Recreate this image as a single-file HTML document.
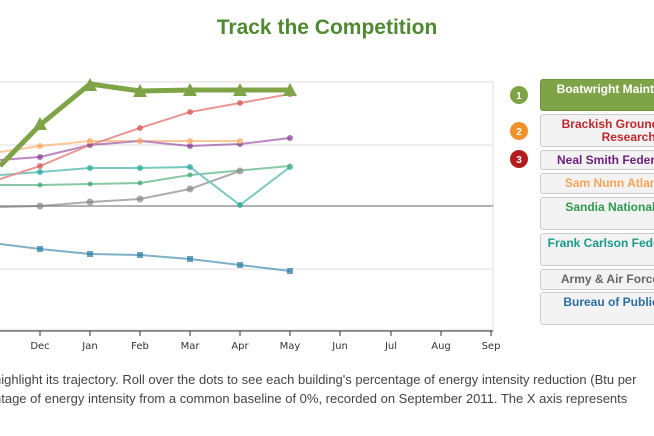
<!DOCTYPE html><html><head><style>
body{margin:0;width:654px;height:436px;overflow:hidden;background:#fff;font-family:"Liberation Sans",sans-serif;position:relative}
.t{position:absolute;left:0;width:654px;top:16px;text-align:center;font-size:21px;font-weight:bold;color:#4f8a32}
.lg{position:absolute;left:540px;top:0;width:114px;height:436px;overflow:hidden}
.b{position:absolute;left:0;width:172px;border:1px solid #ccc;border-radius:3px;background:#f3f3f3;font-size:12px;font-weight:bold;text-align:center;box-sizing:border-box;padding-top:3px;line-height:13px;white-space:nowrap;overflow:hidden}
.dw{position:absolute;left:0;top:360px;width:654px;height:60px;overflow:hidden}
.d{position:absolute;font-size:13px;color:#444;left:-6px;white-space:nowrap}
</style></head><body>
<div class="t">Track the Competition</div>
<svg width="654" height="436" style="position:absolute;left:0;top:0">
<rect x="-1" y="82" width="494" height="248" fill="none" stroke="#ddd"/>
<g stroke="#ddd"><line x1="0" y1="145" x2="493" y2="145"/><line x1="0" y1="269" x2="493" y2="269"/></g>
<line x1="0" y1="206" x2="493" y2="206" stroke="#999" stroke-width="1.5"/>
<line x1="0" y1="331" x2="493" y2="331" stroke="#333"/>
<g stroke="#333"><line x1="40" y1="331" x2="40" y2="336"/><line x1="90" y1="331" x2="90" y2="336"/><line x1="140" y1="331" x2="140" y2="336"/><line x1="190" y1="331" x2="190" y2="336"/><line x1="240" y1="331" x2="240" y2="336"/><line x1="290" y1="331" x2="290" y2="336"/><line x1="340" y1="331" x2="340" y2="336"/><line x1="391" y1="331" x2="391" y2="336"/><line x1="441" y1="331" x2="441" y2="336"/><line x1="491" y1="331" x2="491" y2="336"/></g>
<g font-size="10" fill="#333" text-anchor="middle" font-family="DejaVu Sans"><text x="40" y="349">Dec</text><text x="90" y="349">Jan</text><text x="140" y="349">Feb</text><text x="190" y="349">Mar</text><text x="240" y="349">Apr</text><text x="290" y="349">May</text><text x="340" y="349">Jun</text><text x="391" y="349">Jul</text><text x="441" y="349">Aug</text><text x="491" y="349">Sep</text></g>
<g fill="none" stroke-width="2" opacity="0.6">
<polyline stroke="#2a7ba0" points="0,244 40,249 90,254 140,255 190,259 240,265 290,271"/>
<polyline stroke="#777" points="0,207 40,206 90,202 140,199 190,189 240,171"/>
<polyline stroke="#3aa56a" points="0,185 40,185 90,184 140,183 190,175 290,166"/>
<polyline stroke="#1fa898" points="0,175 40,172 90,168 140,168 190,167 240,205 290,167"/>
<polyline stroke="#fda65a" points="0,152 40,146 90,141 140,141 190,141 240,141"/>
<polyline stroke="#8a3a95" points="0,160 40,157 90,145 140,141 190,146 240,144 290,138"/>
<polyline stroke="#d9534f" points="0,179 40,166 90,145 140,128 190,112 240,103 290,94"/>
</g>
<g opacity="0.7">
<g fill="#2a7ba0"><rect x="37" y="246" width="6" height="6"/><rect x="87" y="251" width="6" height="6"/><rect x="137" y="252" width="6" height="6"/><rect x="187" y="256" width="6" height="6"/><rect x="237" y="262" width="6" height="6"/><rect x="287" y="268" width="6" height="6"/></g>
<g fill="#888"><circle cx="40" cy="206" r="3.5"/><circle cx="90" cy="202" r="3.5"/><circle cx="140" cy="199" r="3.5"/><circle cx="190" cy="189" r="3.5"/><circle cx="240" cy="171" r="3.5"/></g>
<g fill="#d9534f"><circle cx="40" cy="166" r="3"/><circle cx="90" cy="145" r="3"/><circle cx="140" cy="128" r="3"/><circle cx="190" cy="112" r="3"/><circle cx="240" cy="103" r="3"/><circle cx="290" cy="94" r="3"/></g>
<g fill="#1fa898"><circle cx="40" cy="172" r="3"/><circle cx="90" cy="168" r="3"/><circle cx="140" cy="168" r="3"/><circle cx="190" cy="167" r="3"/><circle cx="240" cy="205" r="3"/><circle cx="290" cy="167" r="3"/></g>
<g fill="#8a3a95"><circle cx="40" cy="157" r="3"/><circle cx="90" cy="145" r="3"/><circle cx="140" cy="141" r="3"/><circle cx="190" cy="146" r="3"/><circle cx="240" cy="144" r="3"/><circle cx="290" cy="138" r="3"/></g>
<g fill="#fda65a"><circle cx="40" cy="146" r="3"/><circle cx="90" cy="141" r="3"/><circle cx="140" cy="141" r="3"/><circle cx="190" cy="141" r="3"/><circle cx="240" cy="141" r="3"/></g>
<g fill="#3aa56a"><circle cx="40" cy="185" r="2.5"/><circle cx="90" cy="184" r="2.5"/><circle cx="140" cy="183" r="2.5"/><circle cx="190" cy="175" r="2.5"/><circle cx="290" cy="166" r="2.5"/></g>
</g>
<polyline fill="none" stroke="#7fa447" stroke-width="5" stroke-linejoin="round" points="0,166 40,125 90,84 140,91 190,90 240,90 290,90"/>
<g fill="#7fa447"><polygon points="40,117 33,130 47,130"/><polygon points="90,78 83,91 97,91"/><polygon points="140,84 133,97 147,97"/><polygon points="190,83 183,96 197,96"/><polygon points="240,83 233,96 247,96"/><polygon points="290,83 283,96 297,96"/></g>
<circle cx="519" cy="95" r="9" fill="#7fa447"/><text x="519" y="99" fill="#fff" font-size="10" font-weight="bold" text-anchor="middle">1</text>
<circle cx="519" cy="131" r="9" fill="#f0922a"/><text x="519" y="135" fill="#fff" font-size="10" font-weight="bold" text-anchor="middle">2</text>
<circle cx="519" cy="159" r="9" fill="#b21c1c"/><text x="519" y="163" fill="#fff" font-size="10" font-weight="bold" text-anchor="middle">3</text>
</svg>
<div class="lg">
<div class="b" style="top:79px;height:32px;background:#7fa447;border-color:#6d9239;color:#fff">Boatwright Maintenance</div>
<div class="b" style="top:114px;height:33px;color:#c0272d">Brackish Groundwater<br>&nbsp;&nbsp;&nbsp;&nbsp;&nbsp;&nbsp;&nbsp;&nbsp;&nbsp;&nbsp;&nbsp;&nbsp;&nbsp;&nbsp;Research Center</div>
<div class="b" style="top:150px;height:20px;color:#6b1f7c">Neal Smith Federal Bldg</div>
<div class="b" style="top:173px;height:21px;color:#f6a35a">Sam Nunn Atlanta FC</div>
<div class="b" style="top:197px;height:33px;color:#2e9a4e">Sandia National Labs</div>
<div class="b" style="top:233px;height:33px;color:#1a9a8a">Frank Carlson Federal Bldg</div>
<div class="b" style="top:269px;height:21px;color:#666">Army &amp; Air Force Exch</div>
<div class="b" style="top:292px;height:33px;color:#2a6fa0">Bureau of Public Debt</div>
</div>
<div class="dw">
<div class="d" style="top:12px">highlight its trajectory. Roll over the dots to see each building's percentage of energy intensity reduction (Btu per</div>
<div class="d" style="top:31px">ntage of energy intensity from a common baseline of 0%, recorded on September 2011. The X axis represents</div>
</div>
</body></html>
